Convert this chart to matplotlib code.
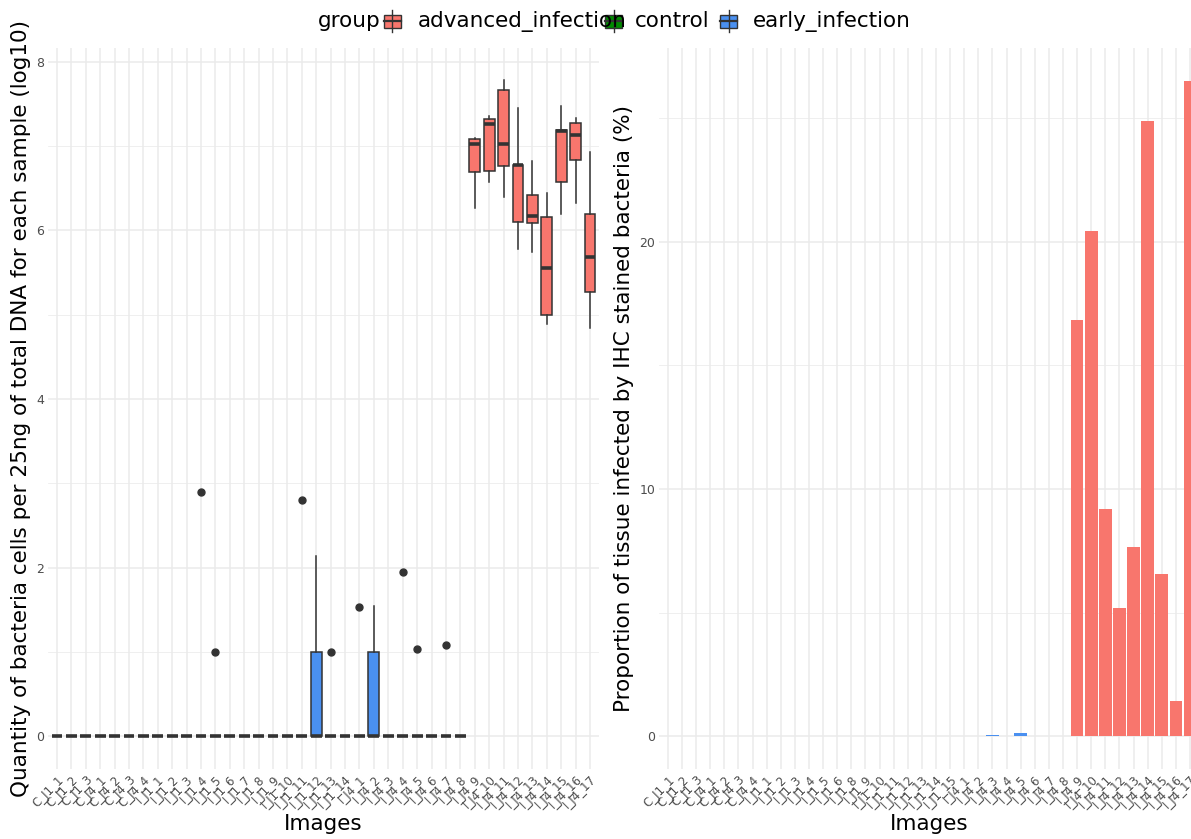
import numpy as np
import matplotlib
matplotlib.use("Agg")
import matplotlib.pyplot as plt
from matplotlib.patches import Rectangle
from matplotlib.lines import Line2D
from matplotlib.ticker import MultipleLocator

# ---- data ----------------------------------------------------------------
group_names = ["advanced_infection", "control", "early_infection"]
group_colors = {"advanced_infection": "#F8766D",
                "control": "#008B00",
                "early_infection": "#4A90F0"}

left_labels = (["C_J1_%d" % i for i in range(1, 4)]
               + ["C_J4_%d" % i for i in range(1, 5)]
               + ["I_J1_%d" % i for i in range(1, 15)]
               + ["I_J4_%d" % i for i in range(1, 18)])
left_groups = (["control"] * 7 + ["early_infection"] * 22
               + ["advanced_infection"] * 9)

# five-number summaries, zero for all samples not listed below
left_q1 = [0.0] * 38
left_med = [0.0] * 38
left_q3 = [0.0] * 38
left_lo = [0.0] * 38
left_hi = [0.0] * 38

early_q3 = {"I_J1_12": 1.0, "I_J4_2": 1.0}
early_hi = {"I_J1_12": 2.14, "I_J4_2": 1.55}

adv_labels = ["I_J4_%d" % i for i in range(9, 18)]
adv_q1 = [6.69, 6.70, 6.77, 6.10, 6.09, 5.00, 6.58, 6.84, 5.27]
adv_med = [7.03, 7.26, 7.03, 6.78, 6.17, 5.56, 7.18, 7.13, 5.68]
adv_q3 = [7.09, 7.32, 7.66, 6.78, 6.42, 6.16, 7.19, 7.27, 6.19]
adv_lo = [6.27, 6.57, 6.40, 5.78, 5.74, 4.89, 6.20, 6.33, 4.84]
adv_hi = [7.10, 7.36, 7.78, 7.45, 6.82, 6.44, 7.48, 7.33, 6.93]

outlier_labels = ["I_J1_4", "I_J1_5", "I_J1_11", "I_J1_13",
                  "I_J4_1", "I_J4_4", "I_J4_5", "I_J4_7"]
outlier_values = [2.90, 1.00, 2.80, 1.00, 1.53, 1.95, 1.04, 1.08]

right_labels = (["C_J1_%d" % i for i in range(1, 4)]
                + ["C_J4_%d" % i for i in range(1, 5)]
                + ["I_J1_%d" % i for i in [1, 2, 3, 4, 5, 6, 8, 9, 10, 11, 12, 13, 14, 15]]
                + ["I_J4_%d" % i for i in range(1, 18)])
right_groups = (["control"] * 7 + ["early_infection"] * 22
                + ["advanced_infection"] * 9)
right_values = ([0.0] * 23 + [0.04, 0.0, 0.12, 0.0, 0.0, 0.0]
                + [16.82, 20.43, 9.17, 5.18, 7.64, 24.86, 6.55, 1.44, 26.5])

for lab in early_q3:
    i = left_labels.index(lab)
    left_q3[i] = early_q3[lab]
    left_hi[i] = early_hi[lab]
for k, lab in enumerate(adv_labels):
    i = left_labels.index(lab)
    left_q1[i], left_med[i], left_q3[i] = adv_q1[k], adv_med[k], adv_q3[k]
    left_lo[i], left_hi[i] = adv_lo[k], adv_hi[k]

# ---- figure ----------------------------------------------------------------
W, H = 1191, 839
fig = plt.figure(figsize=(W / 100, H / 100), dpi=100)
ax1 = fig.add_axes([0.0406, 0.0834, 0.462, 0.8594])
ax2 = fig.add_axes([0.5537, 0.0834, 0.4526, 0.8594])

grid_c = "#EBEBEB"
tick_c = "#4D4D4D"
line_c = "#333333"


def style(ax, labels, ylim, major, minor):
    n = len(labels)
    ax.set_xlim(-0.6, n - 0.4)
    ax.set_ylim(*ylim)
    ax.set_xticks(range(n))
    ax.set_xticklabels(labels, rotation=45, ha="right", rotation_mode="anchor",
                       fontsize=8.5, color=tick_c)
    ax.yaxis.set_major_locator(MultipleLocator(major))
    ax.yaxis.set_minor_locator(MultipleLocator(minor))
    ax.tick_params(axis="both", which="both", length=0, pad=3)
    ax.tick_params(axis="y", which="both", labelsize=9, labelcolor=tick_c)
    ax.grid(True, which="major", color=grid_c, lw=1.1)
    ax.grid(True, which="minor", axis="y", color=grid_c, lw=0.55)
    ax.set_axisbelow(True)
    for s in ax.spines.values():
        s.set_visible(False)
    ax.set_xlabel("Images", fontsize=15.5, labelpad=2)


# left: box plots
stats = []
for i in range(len(left_labels)):
    fl = [v for lab, v in zip(outlier_labels, outlier_values) if lab == left_labels[i]]
    stats.append(dict(q1=left_q1[i], med=left_med[i], q3=left_q3[i],
                      whislo=left_lo[i], whishi=left_hi[i], fliers=fl))
bp = ax1.bxp(stats, positions=range(len(left_labels)), widths=0.75,
             patch_artist=True, showcaps=False,
             boxprops=dict(edgecolor=line_c, linewidth=1.1),
             medianprops=dict(color=line_c, linewidth=2.6, solid_capstyle="butt"),
             whiskerprops=dict(color=line_c, linewidth=1.1),
             flierprops=dict(marker="o", markerfacecolor=line_c,
                             markeredgecolor=line_c, markersize=5))
for patch, g in zip(bp["boxes"], left_groups):
    patch.set_facecolor(group_colors[g])

style(ax1, left_labels, (-0.389, 8.164), 2, 1)
ax1.set_ylabel("Quantity of bacteria cells per 25ng of total DNA for each sample (log10)",
               fontsize=15.5, labelpad=4)

# right: bars
ax2.bar(range(len(right_labels)), right_values, width=0.9,
        color=[group_colors[g] for g in right_groups], edgecolor="none")
style(ax2, right_labels, (-1.325, 27.83), 10, 5)
ax2.set_ylabel("Proportion of tissue infected by IHC stained bacteria (%)",
               fontsize=15.5, labelpad=4)

# ---- legend (drawn by hand, ggplot-like, on top row) ----------------------
def fx(px):
    return px / W


def fy(py):
    return 1 - py / H


key_y = 21
fig.text(fx(318), fy(key_y), "group", fontsize=15.5, ha="left", va="center")
key_left = [384, 605, 720]
text_left = [418, 635, 753]
for g, kx, tx in zip(group_names, key_left, text_left):
    fig.add_artist(Line2D([fx(kx + 8.5)] * 2, [fy(key_y - 11), fy(key_y + 11)],
                          color=line_c, lw=1.0, transform=fig.transFigure))
    fig.add_artist(Rectangle((fx(kx), fy(key_y + 6.5)), fx(17), 13 / H,
                             facecolor=group_colors[g], edgecolor=line_c, lw=1.0,
                             transform=fig.transFigure))
    fig.add_artist(Line2D([fx(kx), fx(kx + 17)], [fy(key_y)] * 2,
                          color=line_c, lw=1.6, transform=fig.transFigure))
    fig.text(fx(tx), fy(key_y), g, fontsize=15.5, ha="left", va="center")

fig.savefig("out.png", dpi=100)
